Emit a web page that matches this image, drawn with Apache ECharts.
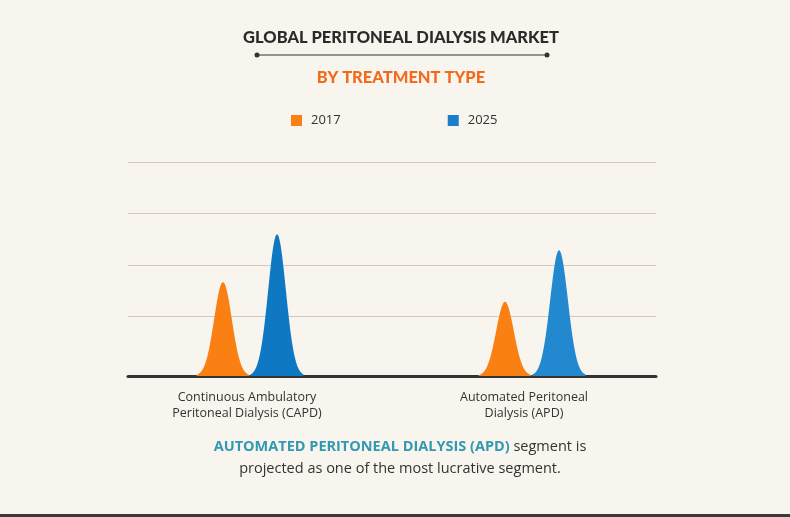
<!DOCTYPE html>
<html>
<head>
<meta charset="utf-8">
<script src="https://cdn.jsdelivr.net/npm/echarts@6/dist/echarts.min.js"></script>
<style>
html,body{margin:0;padding:0;background:#f8f5ee;}
#chart{width:790px;height:517px;}
</style>
</head>
<body>
<div id="chart"></div>
<script>
// ---- data ----
var categories = ['Continuous Ambulatory\nPeritoneal Dialysis (CAPD)', 'Automated Peritoneal\nDialysis (APD)'];
var seriesNames = ['2017', '2025'];
var values2017 = [1.82, 1.44];
var values2025 = [2.75, 2.44];
var gridValues = [1.15, 2.15, 3.15, 4.15];

// ---- styling ----
var pairShift = [-10, 8];          // px horizontal shift of each category's pair of peaks
var labelShift = [26, 0];          // right padding to move category labels
var colors2017 = ['#fb8014', '#fb8014'];
var colors2025 = ['#0f78c3', '#2288cf'];

// bell-shaped (gaussian) symbol path
var pts = [];
for (var i = 0; i <= 60; i++) {
  var x = i * 10;
  var t = (x - 300) / 100;
  var y = 1000 - 1000 * Math.exp(-t * t / 2);
  pts.push(x + ',' + y.toFixed(2));
}
var bellPath = 'path://M0,1000 L' + pts.join(' L') + ' L600,1000 Z';

function buildData(vals, cols) {
  return vals.map(function (v, k) {
    return { value: v, symbolOffset: [pairShift[k], 0], itemStyle: { color: cols[k] } };
  });
}

var chart = echarts.init(document.getElementById('chart'));
chart.setOption({
  backgroundColor: '#f8f5ee',
  animation: false,
  graphic: [
    {
      type: 'text', x: 401, y: 29,
      style: { text: 'GLOBAL PERITONEAL DIALYSIS MARKET', align: 'center',
        fontFamily: 'Lato', fontWeight: 900, fontSize: 16.5, fill: '#2b2b2b' }
    },
    {
      type: 'text', x: 401, y: 69,
      style: { text: 'BY TREATMENT TYPE', align: 'center',
        fontFamily: 'Lato', fontWeight: 900, fontSize: 16.5, fill: '#f26b1d' }
    },
    { type: 'line', shape: { x1: 257, y1: 55, x2: 547, y2: 55 }, style: { stroke: '#333', lineWidth: 1 } },
    { type: 'circle', shape: { cx: 257, cy: 55, r: 2.5 }, style: { fill: '#333' } },
    { type: 'circle', shape: { cx: 547, cy: 55, r: 2.5 }, style: { fill: '#333' } },
    { type: 'rect', shape: { x: 0, y: 514, width: 790, height: 3 }, style: { fill: '#3a3a3a' } },
    {
      type: 'text', x: 400, y: 436,
      style: {
        text: '{b|AUTOMATED PERITONEAL DIALYSIS (APD)}{r| segment is}\n{r|projected as one of the most lucrative segment.}',
        align: 'center',
        rich: {
          b: { fontFamily: 'Open Sans', fontWeight: 'bold', fontSize: 14.5, fill: '#3399b2', lineHeight: 22, align: 'center' },
          r: { fontFamily: 'Open Sans', fontWeight: 'normal', fontSize: 14.5, fill: '#333333', lineHeight: 22, align: 'center' }
        }
      }
    }
  ],
  legend: {
    data: seriesNames,
    top: 109,
    left: 286,
    itemGap: 107,
    itemWidth: 11,
    itemHeight: 11,
    icon: 'rect',
    textStyle: { fontFamily: 'Open Sans', fontSize: 13, color: '#333', padding: [0, 0, 0, 4] }
  },
  grid: { left: 128, right: 134, top: 162, bottom: 141 },
  xAxis: {
    type: 'category',
    data: categories.map(function (c, k) {
      return { value: c, textStyle: { padding: [0, labelShift[k], 0, 0] } };
    }),
    axisLine: { lineStyle: { color: '#333', width: 3 } },
    axisTick: { show: false },
    axisLabel: { fontFamily: 'Open Sans', fontSize: 12.5, color: '#333', lineHeight: 16, margin: 13 }
  },
  yAxis: {
    type: 'value', min: 0, max: 4.15,
    show: false,
    splitLine: { show: false }
  },
  series: [
    {
      name: '2017', type: 'pictorialBar',
      symbol: bellPath, symbolSize: [53, '100%'],
      barWidth: 53, barGap: '2%',
      itemStyle: { color: '#fb8014' },
      data: buildData(values2017, colors2017),
      z: 3,
      markLine: {
        silent: true, symbol: 'none', label: { show: false },
        lineStyle: { color: '#cfcbc3', type: 'solid', width: 1 },
        data: gridValues.map(function (v) { return { yAxis: v }; }),
        z: 1
      }
    },
    {
      name: '2025', type: 'pictorialBar',
      symbol: bellPath, symbolSize: [53, '100%'],
      barWidth: 53, barGap: '2%',
      itemStyle: { color: '#1a7fc9' },
      data: buildData(values2025, colors2025),
      z: 3
    }
  ]
});
</script>
</body>
</html>
